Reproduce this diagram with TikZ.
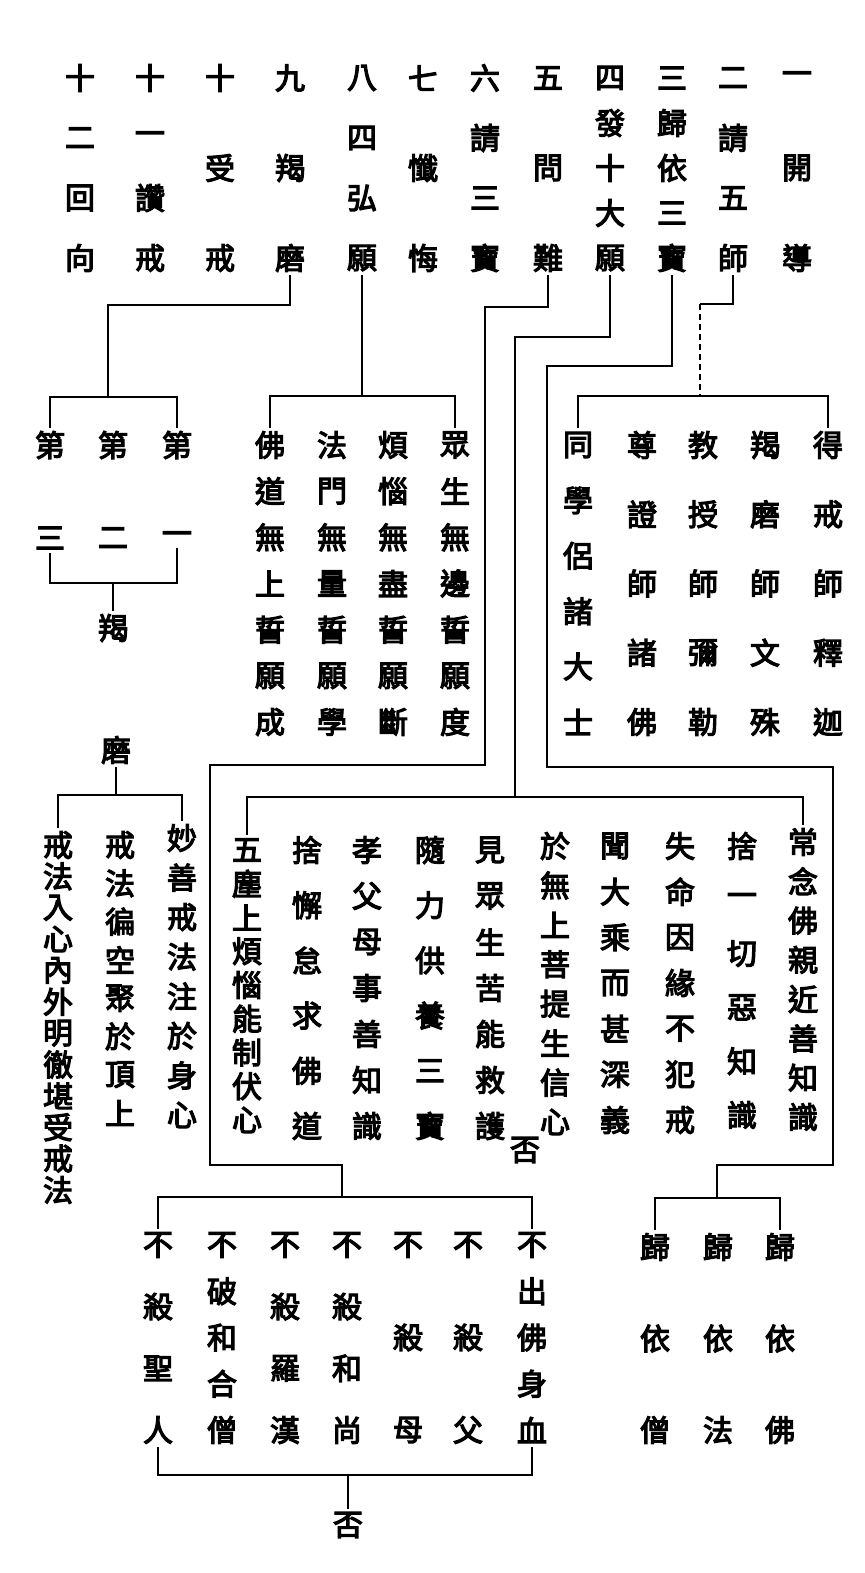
\documentclass[tikz,border=0pt]{standalone}
\usepackage{fontspec}
\newfontfamily\cjk{Noto Sans CJK TC}[AutoFakeBold=4]
\usetikzlibrary{positioning}

% one vertical column of characters, spread evenly from top to bottom
\newcommand{\vcol}[6]{%
  \foreach \ch [count=\k] in {#6}
    \node[zi] (#1-\k) at (#2,{#3+(#4-#3)*(\k-1)/(#5-1)}) {\ch};
}

\begin{document}
\begin{tikzpicture}[x=0.5pt,y=-0.5pt,line width=1.1pt,
  zi/.style={font=\cjk\bfseries\fontsize{15}{15}\selectfont,inner sep=1.2pt},
  link/.style={line width=1.1pt},
  faint/.style={line width=0.8pt,densely dashed}]

  \useasboundingbox (0,0) rectangle (864,1573);

  % the twelve steps
  \vcol{c1}{797}{78}{258}{3}{一,開,導}
  \vcol{c2}{733}{78}{258}{4}{二,請,五,師}
  \vcol{c3}{672}{78}{258}{5}{三,歸,依,三,寶}
  \vcol{c4}{610}{78}{258}{5}{四,發,十,大,願}
  \vcol{c5}{548}{78}{258}{3}{五,問,難}
  \vcol{c6}{485}{78}{258}{4}{六,請,三,寶}
  \vcol{c7}{423}{78}{258}{3}{七,懺,悔}
  \vcol{c8}{362}{78}{258}{4}{八,四,弘,願}
  \vcol{c9}{290}{78}{258}{3}{九,羯,磨}
  \vcol{c10}{220}{78}{258}{3}{十,受,戒}
  \vcol{c11}{150}{78}{258}{4}{十,一,讚,戒}
  \vcol{c12}{80}{78}{258}{4}{十,二,回,向}

  % five masters
  \vcol{s1}{828}{445}{722}{5}{得,戒,師,釋,迦}
  \vcol{s2}{765}{445}{722}{5}{羯,磨,師,文,殊}
  \vcol{s3}{703}{445}{722}{5}{教,授,師,彌,勒}
  \vcol{s4}{642}{445}{722}{5}{尊,證,師,諸,佛}
  \vcol{s5}{578}{445}{722}{6}{同,學,侶,諸,大,士}

  % four great vows
  \vcol{v1}{455}{445}{722}{7}{眾,生,無,邊,誓,願,度}
  \vcol{v2}{393}{445}{722}{7}{煩,惱,無,盡,誓,願,斷}
  \vcol{v3}{332}{445}{722}{7}{法,門,無,量,誓,願,學}
  \vcol{v4}{270}{445}{722}{7}{佛,道,無,上,誓,願,成}

  % karma
  \vcol{d1}{177}{445}{538}{2}{第,一}
  \vcol{d2}{113}{445}{538}{2}{第,二}
  \vcol{d3}{50}{445}{538}{2}{第,三}
  \node[zi] (jm1) at (113,628) {羯};
  \node[zi] (jm2) at (116,750) {磨};
  \vcol{m1}{182}{838}{1115}{8}{妙,善,戒,法,注,於,身,心}
  \vcol{m2}{120}{845}{1113}{8}{戒,法,徧,空,聚,於,頂,上}
  \vcol{m3}{58}{845}{1190}{12}{戒,法,入,心,內,外,明,徹,堪,受,戒,法}

  % ten great vows
  \vcol{t1}{803}{842}{1117}{8}{常,念,佛,親,近,善,知,識}
  \vcol{t2}{742}{846}{1115}{6}{捨,一,切,惡,知,識}
  \vcol{t3}{680}{846}{1120}{7}{失,命,因,緣,不,犯,戒}
  \vcol{t4}{615}{846}{1120}{7}{聞,大,乘,而,甚,深,義}
  \vcol{t5}{555}{846}{1122}{8}{於,無,上,菩,提,生,信,心}
  \vcol{t6}{490}{850}{1126}{7}{見,眾,生,苦,能,救,護}
  \vcol{t7}{430}{850}{1126}{6}{隨,力,供,養,三,寶}
  \vcol{t8}{367}{850}{1126}{7}{孝,父,母,事,善,知,識}
  \vcol{t9}{307}{850}{1126}{6}{捨,懈,怠,求,佛,道}
  \vcol{t10}{247}{850}{1120}{9}{五,塵,上,煩,惱,能,制,伏,心}
  \node[zi] (no1) at (525,1150) {否};

  % seven hindrances
  \vcol{z1}{532}{1245}{1430}{5}{不,出,佛,身,血}
  \vcol{z2}{468}{1245}{1430}{3}{不,殺,父}
  \vcol{z3}{408}{1245}{1430}{3}{不,殺,母}
  \vcol{z4}{347}{1245}{1430}{4}{不,殺,和,尚}
  \vcol{z5}{285}{1245}{1430}{4}{不,殺,羅,漢}
  \vcol{z6}{222}{1245}{1430}{5}{不,破,和,合,僧}
  \vcol{z7}{158}{1245}{1430}{4}{不,殺,聖,人}
  \node[zi] (no2) at (348,1525) {否};

  % three refuges
  \vcol{r1}{780}{1247}{1430}{3}{歸,依,佛}
  \vcol{r2}{718}{1247}{1430}{3}{歸,依,法}
  \vcol{r3}{655}{1247}{1430}{3}{歸,依,僧}

  % links from the steps
  \draw[link] (c2-4.south) |- (700,304) coordinate (k2);
  \draw[faint] (k2) -- (700,396) coordinate (b2);
  \draw[link] (s5-1.north) |- (b2) -| (s1-1.north);

  \draw[link] (c3-5.south) |- (547,366) |- (833,767) |- (717,1165) -- (717,1198) coordinate (b3);
  \draw[link] (r3-1.north) |- (b3) -| (r1-1.north);

  \draw[link] (c4-5.south) |- (515,337) -- (515,797) coordinate (b4);
  \draw[link] (t10-1.north) |- (b4) -| (t1-1.north);

  \draw[link] (c5-3.south) |- (485,307) |- (210,765) |- (342,1165) -- (342,1197) coordinate (b5);
  \draw[link] (z7-1.north) |- (b5) -| (z1-1.north);
  \draw[link] (z7-4.south) |- (348,1475) coordinate (b6) -| (z1-5.south);
  \draw[link] (b6) -- (no2.north);

  \draw[link] (c8-4.south) -- (362,396) coordinate (b8);
  \draw[link] (v4-1.north) |- (b8) -| (v1-1.north);

  \draw[link] (c9-3.south) |- (108,305) -- (108,397) coordinate (b9);
  \draw[link] (d3-1.north) |- (b9) -| (d1-1.north);
  \draw[link] (d3-2.south) |- (113,583) coordinate (b10) -| (d1-2.south);
  \draw[link] (b10) -- (jm1.north);
  \draw[link] (jm2.south) -- (116,795) coordinate (b11);
  \draw[link] (m3-1.north) |- (b11) -| (m1-1.north);

\end{tikzpicture}
\end{document}
